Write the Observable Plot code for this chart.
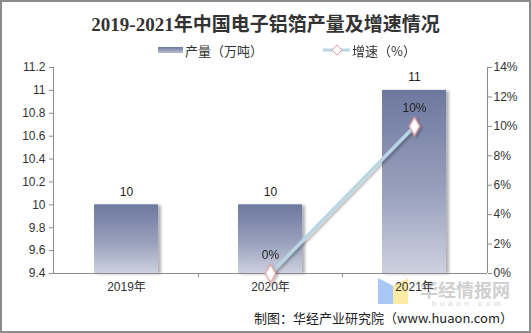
<!DOCTYPE html>
<html>
<head>
<meta charset="utf-8">
<script src="https://cdn.jsdelivr.net/npm/d3@7"></script>
<script src="https://cdn.jsdelivr.net/npm/@observablehq/plot@0.6"></script>
<style>
  html, body { margin: 0; padding: 0; background: #fff; }
  #wrap { position: relative; width: 531px; height: 333px; overflow: hidden; background: #fff;
          font-family: "Liberation Sans", Arial, "Noto Sans CJK SC", sans-serif; }
  #border { position: absolute; left: 0; top: 0; width: 531px; height: 333px; box-sizing: border-box;
            border: 2px solid #8c8c8c; pointer-events: none; }
  #title { position: absolute; left: 0; width: 531px; top: 12px; text-align: center; white-space: nowrap;
           font-family: "Liberation Serif", "DejaVu Serif", "Noto Sans CJK SC", serif; font-weight: bold;
           font-size: 19px; color: #333; line-height: 26px; }
  #legend { position: absolute; top: 41px; left: 0; width: 531px; height: 18px; font-size: 13px; color: #333;
            font-family: "Noto Sans CJK SC", sans-serif; }
  .lg { position: absolute; top: 0; display: flex; align-items: center; height: 18px; white-space: nowrap; }
  #caption { position: absolute; right: 18px; top: 309px; font-size: 13px; color: #222; white-space: nowrap;
             font-family: "Noto Sans CJK SC", "Liberation Sans", sans-serif; line-height: 18px; }
  #wm { position: absolute; left: 378px; top: 277px; width: 150px; height: 36px; white-space: nowrap; }
  #plot { position: absolute; left: 0; top: 0; }
</style>
</head>
<body>
<div id="wrap">
  <div id="wm">
    <div style="position:absolute;left:0;top:1px;width:15px;height:26px;background:#a9c8f5;clip-path:polygon(0 0,100% 30%,100% 100%,0 100%);"></div>
    <div style="position:absolute;left:15px;top:1px;width:15px;height:26px;background:#fbe9a6;clip-path:polygon(0 30%,100% 0,100% 100%,0 100%);"></div>
    <div style="position:absolute;left:42px;top:0px;font-size:18px;font-weight:bold;color:#d0d0d0;font-family:'Noto Sans CJK SC',sans-serif;line-height:24px;">华经情报网</div>
    <div style="position:absolute;left:54px;top:22px;font-size:8px;color:#d4d4d4;letter-spacing:3.6px;line-height:10px;">huaon.com</div>
  </div>
  <div id="plot"></div>
  <div id="title">2019-2021年中国电子铝箔产量及增速情况</div>
  <div id="legend"></div>
  <div id="caption">制图：华经产业研究院（www.huaon.com）</div>
  <div id="border"></div>
</div>
<script>
// ---- data ----
const years = ["2019年", "2020年", "2021年"];
const output = [10, 10, 11];               // 产量（万吨）
const growthYears = ["2020年", "2021年"];
const growth = [0, 10];                      // 增速（%）
const leftTicks = [9.4, 9.6, 9.8, 10, 10.2, 10.4, 10.6, 10.8, 11, 11.2];
const rightTicks = [0, 2, 4, 6, 8, 10, 12, 14];

const yMin = leftTicks[0], yMax = leftTicks[leftTicks.length - 1];
const pMin = rightTicks[0], pMax = rightTicks[rightTicks.length - 1];
const toY = p => yMin + (p - pMin) * (yMax - yMin) / (pMax - pMin);
const fromY = y => Math.round(pMin + (y - yMin) * (pMax - pMin) / (yMax - yMin));

const prodData = years.map((year, i) => ({year, v: output[i]}));
const growthData = growthYears.map((year, i) => ({year, p: growth[i], y: toY(growth[i])}));

const axisColor = "#8c8c8c";

function defs() {
  const svgNS = "http://www.w3.org/2000/svg";
  const d = document.createElementNS(svgNS, "defs");
  d.innerHTML = `
    <linearGradient id="barGrad" x1="0" y1="0" x2="0" y2="1">
      <stop offset="0" stop-color="#6d789e"/>
      <stop offset="0.55" stop-color="#98a0bd"/>
      <stop offset="1" stop-color="#cdd0df"/>
    </linearGradient>
    <filter id="barShadow" x="-20%" y="-10%" width="150%" height="120%">
      <feDropShadow dx="3" dy="1" stdDeviation="1.5" flood-color="#000" flood-opacity="0.3"/>
    </filter>
    <filter id="lineShadow" x="-20%" y="-20%" width="140%" height="140%">
      <feDropShadow dx="2" dy="2" stdDeviation="1.2" flood-color="#000" flood-opacity="0.25"/>
    </filter>`;
  return d;
}

function axesLines(index, scales, values, dims) {
  const svgNS = "http://www.w3.org/2000/svg";
  const g = document.createElementNS(svgNS, "g");
  const L = dims.marginLeft, R = dims.width - dims.marginRight;
  const T = dims.marginTop, B = dims.height - dims.marginBottom;
  const line = (x1, y1, x2, y2) => {
    const l = document.createElementNS(svgNS, "line");
    l.setAttribute("x1", x1); l.setAttribute("y1", y1);
    l.setAttribute("x2", x2); l.setAttribute("y2", y2);
    l.setAttribute("stroke", axisColor); l.setAttribute("stroke-width", 1);
    l.setAttribute("shape-rendering", "crispEdges");
    g.appendChild(l);
  };
  line(L, T, L, B);
  line(R, T, R, B);
  line(L, B, R, B);
  years.slice(1).forEach(y => { const x = scales.x(y); line(x, B, x, B + 4); });
  return g;
}

const plot = Plot.plot({
  width: 531,
  height: 333,
  marginLeft: 53,
  marginRight: 44,
  marginTop: 67,
  marginBottom: 60,
  x: {domain: years, padding: 0},
  y: {domain: [yMin, yMax]},
  style: {fontFamily: "'Liberation Sans', Arial, 'Noto Sans CJK SC', sans-serif", fontSize: "12px", color: "#333", background: "transparent", overflow: "visible"},
  marks: [
    defs,
    Plot.barY(prodData, {x: "year", y1: () => yMin, y2: "v", fill: "url(#barGrad)", insetLeft: 40, insetRight: 40}),
    axesLines,
    Plot.axisY({anchor: "left", ticks: leftTicks, tickSize: 4, tickPadding: 4, stroke: axisColor, fill: "#333", label: null, tickFormat: d => String(d)}),
    Plot.axisY({anchor: "right", ticks: rightTicks.map(toY), tickSize: 4, tickPadding: 2, stroke: axisColor, fill: "#333", label: null, tickFormat: d => fromY(d) + "%"}),
    Plot.axisX({tickSize: 0, tickPadding: 9, label: null, fill: "#333", fontSize: 12, fontFamily: "'Liberation Sans', 'Noto Sans CJK SC', sans-serif"}),
    Plot.text(prodData, {x: "year", y: "v", text: d => String(d.v), dy: -13, fill: "#222", fontSize: 12}),
    Plot.line(growthData, {x: "year", y: "y", stroke: "#b8d6e4", strokeWidth: 3.5}),
    Plot.dot(growthData, {x: "year", y: "y", symbol: "diamond", r: 5.5, fill: "#fff", stroke: "#e49a9a", strokeWidth: 1.2}),
    Plot.text(growthData, {x: "year", y: "y", text: d => d.p + "%", dy: -18, fill: "#222", fontSize: 12})
  ]
});

const sel = d3.select(plot);
sel.select('g[aria-label="bar"]').attr("filter", "url(#barShadow)");
sel.select('g[aria-label="line"]').attr("filter", "url(#lineShadow)");
sel.select('g[aria-label="dot"]').attr("filter", "url(#lineShadow)");
document.getElementById("plot").appendChild(plot);

// legend
const legend = document.getElementById("legend");
legend.innerHTML = `
  <div class="lg" style="left:158px;">
    <svg width="26" height="18"><defs><linearGradient id="lgGrad" x1="0" y1="0" x2="0" y2="1"><stop offset="0" stop-color="#6d789e"/><stop offset="1" stop-color="#b8bdd2"/></linearGradient></defs>
      <rect x="0" y="6" width="25" height="6" fill="url(#lgGrad)"/></svg>
    <span style="margin-left:1px;">产量（万吨）</span>
  </div>
  <div class="lg" style="left:323px;">
    <svg width="28" height="18"><line x1="0" y1="9" x2="27" y2="9" stroke="#b8d6e4" stroke-width="3"/>
      <path d="M14,4 L19,9 L14,14 L9,9 Z" fill="#fff" stroke="#e49a9a" stroke-width="1"/></svg>
    <span style="margin-left:1px;">增速（%）</span>
  </div>`;
</script>
</body>
</html>
